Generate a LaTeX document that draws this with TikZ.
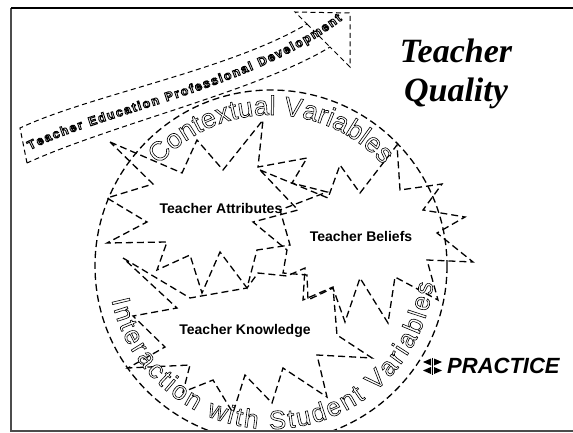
\documentclass[tikz,border=0pt]{standalone}
\usepackage{fontspec}
\setmainfont{Liberation Sans}
\newfontfamily\serifbi{Liberation Serif}
\usetikzlibrary{decorations.text}
\newcommand\olmode{\special{pdf:literal direct 1 g 0 G 2 Tr 0.6 w}}
\newcommand\olbold{\special{pdf:literal direct 1 g 0 G 2 Tr 0.9 w}}
\begin{document}
\begin{tikzpicture}[x=1pt,y=-1pt,
  dsh/.style={dash pattern=on 7pt off 4pt, line width=1.3pt},
  bdash/.style={dash pattern=on 5pt off 3.5pt, line width=1pt},
  lbl/.style={font=\fontsize{14}{14}\selectfont\bfseries, inner sep=0pt},
]
\useasboundingbox (0,0) rectangle (573,433);
\fill[white] (0,0) rectangle (573,433);
\begin{scope}
\clip (11,8) rectangle (573,431);
% circle
\draw[dsh] (271,266) circle[radius=176];
% star: attributes
\draw[dsh] (110,142) -- (182,173) -- (197,140) -- (223,170) -- (263,120) -- (258,167) -- (307,158) -- (292,183) -- (327,192) -- (280,210) -- (290,245) -- (257,250) -- (247,288) -- (220,252) -- (202,293) -- (190,255) -- (157,270) -- (167,242) -- (107,243) -- (147,222) -- (107,198) -- (153,184) -- cycle;
% star: beliefs
\draw[dsh] (260,170) -- (328,198) -- (340,165) -- (360,193) -- (397,145) -- (400,190) -- (442,184) -- (423,210) -- (465,217) -- (437,233) -- (473,262) -- (427,260) -- (438,300) -- (395,277) -- (388,323) -- (360,278) -- (345,322) -- (333,288) -- (308,300) -- (307,275) -- (283,273) -- (287,250) -- (253,222) -- (298,210) -- cycle;
% star: knowledge
\draw[dsh] (123,258) -- (190,298) -- (247,288) -- (258,273) -- (287,276) -- (305,268) -- (303,300) -- (333,287) -- (337,335) -- (372,358) -- (317,355) -- (327,397) -- (283,368) -- (272,403) -- (245,375) -- (233,413) -- (213,380) -- (183,392) -- (190,365) -- (128,368) -- (165,347) -- (133,316) -- (177,308) -- cycle;
% banner
\draw[bdash] (27,163) -- (20,128) .. controls (90,95) and (230,70) .. (307,24) -- (295,12) -- (350,13) -- (350,67) -- (330,47) .. controls (260,90) and (110,125) .. (27,163) -- cycle;
\draw[bdash] (307,24) -- (330,47);
\path[decorate, decoration={text along path, text align=fit to path,
  text={|\fontsize{12.5}{12.5}\selectfont\bfseries\olbold|Teacher Education Professional Development}}]
  (30,150) .. controls (100,114) and (250,90) .. (342,20);
% outlined arc texts
\path[decorate, decoration={text along path, text align=fit to path,
  text={|\fontsize{27}{27}\selectfont\olmode|Contextual Variables}}]
  (271,266) ++(222:151) arc[start angle=222, end angle=318, radius=151];
\path[decorate, decoration={text along path, text align=fit to path,
  text={|\fontsize{26}{26}\selectfont\olmode|Interaction with Student Variables}}]
  (271,266) ++(168:163) arc[start angle=168, end angle=6, radius=163];
\end{scope}
% labels
\node[lbl] (ta) at (221,208) {Teacher Attributes};
\node[lbl] (tb) at (361,236) {Teacher Beliefs};
\node[lbl] (tk) at (245,331) {Teacher Knowledge};
\node[font=\serifbi\bfseries\itshape\fontsize{34}{34}\selectfont, anchor=base, inner sep=0pt] (tq1) at (456,63) {Teacher};
\node[font=\serifbi\bfseries\itshape\fontsize{34}{34}\selectfont, anchor=base, inner sep=0pt] (tq2) at (456,102) {Quality};
\node[font=\bfseries\itshape\fontsize{22}{22}\selectfont, anchor=base west, inner sep=0pt] (pr) at (447,373) {PRACTICE};
% practice icon
\fill (423,362) -- (431,358.5) -- (431,365.5) -- cycle;
\fill (442,362) -- (434,358.5) -- (434,365.5) -- cycle;
\fill (423,370.5) -- (431,367) -- (431,374) -- cycle;
\fill (442,370.5) -- (434,367) -- (434,374) -- cycle;
\draw[line width=0.8pt] (432.5,357.5) -- (432.5,375);
% frame
\draw[gray!60!black, line width=2pt] (11,8) -- (11,431) -- (573,431);
\draw[black, line width=1.5pt] (11,8) -- (573,8);
\end{tikzpicture}
\end{document}
